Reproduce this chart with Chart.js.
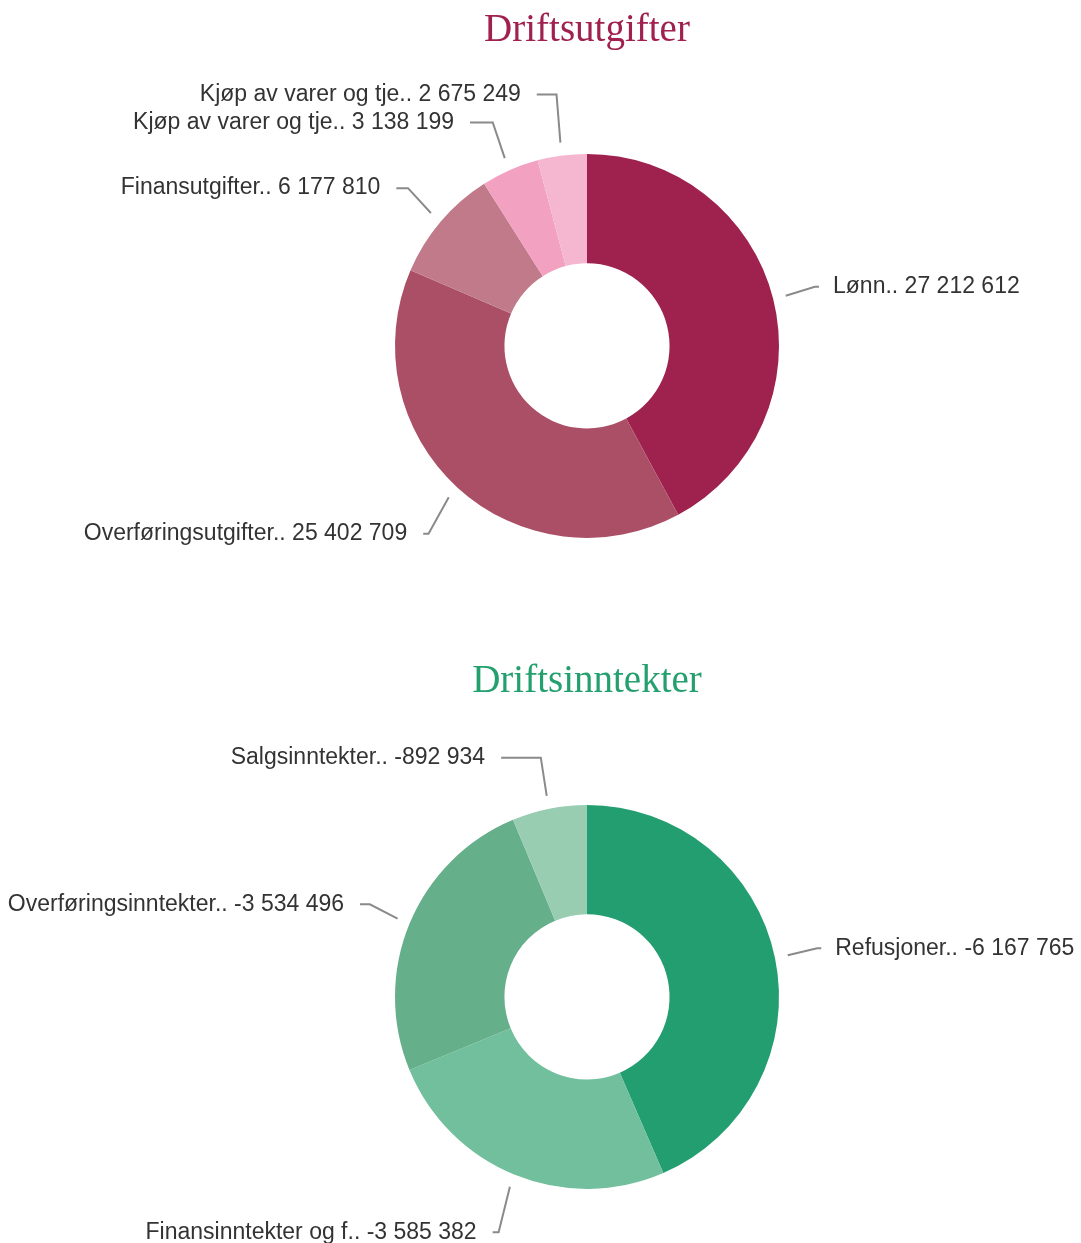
<!DOCTYPE html>
<html>
<head>
<meta charset="utf-8">
<script src="https://cdn.jsdelivr.net/npm/chart.js@4"></script>
<style>
  body { margin: 0; background: #fff; }
  canvas { display: block; }
</style>
</head>
<body>
<canvas id="utgifter" width="1081" height="650"></canvas>
<canvas id="inntekter" width="1081" height="593"></canvas>
<script>
// Driftsutgifter
const utgifterNavn = ['Lønn', 'Overføringsutgifter', 'Finansutgifter', 'Kjøp av varer og tje', 'Kjøp av varer og tje'];
const utgifterVerdier = [27212612, 25402709, 6177810, 3138199, 2675249];
const utgifterFarger = ['#9e214e', '#ab4f67', '#c07a8a', '#f3a1c0', '#f5b7d0'];

// Driftsinntekter
const inntekterNavn = ['Refusjoner', 'Finansinntekter og f', 'Overføringsinntekter', 'Salgsinntekter'];
const inntekterVerdier = [-6167765, -3585382, -3534496, -892934];
const inntekterFarger = ['#239e70', '#72bf9d', '#66af8b', '#98cdb2'];

// tall med mellomrom som tusenskille
function formater(v) {
    const s = Math.abs(v).toString().replace(/\B(?=(\d{3})+(?!\d))/g, ' ');
    return (v < 0 ? '-' : '') + s;
}

// tegner etiketter med strek ut fra hver sektor
const etiketter = {
    id: 'etiketter',
    afterDatasetsDraw(chart) {
        const ctx = chart.ctx;
        const meta = chart.getDatasetMeta(0);
        const data = chart.data.datasets[0].data;
        const navn = chart.data.labels;

        const punkter = meta.data.map((arc, i) => {
            const mid = (arc.startAngle + arc.endAngle) / 2;
            const dx = Math.cos(mid), dy = Math.sin(mid);
            const avstand = dy > 0 ? 61 : 53;
            return {
                i, arc, dx, dy,
                side: dx >= 0 ? 1 : -1,
                y: arc.y + dy * (arc.outerRadius + avstand) + 1
            };
        });

        // flytt etiketter oppover hvis de overlapper
        [1, -1].forEach(side => {
            const liste = punkter.filter(p => p.side === side).sort((a, b) => b.y - a.y);
            for (let k = 1; k < liste.length; k++) {
                if (liste[k].y > liste[k - 1].y - 28) liste[k].y = liste[k - 1].y - 28;
            }
        });

        ctx.save();
        ctx.font = '23px "Liberation Sans", Arial, sans-serif';
        ctx.textBaseline = 'middle';
        punkter.forEach(p => {
            const a = p.arc;
            const r = a.outerRadius;
            // tekstkant på en sirkel rundt smultringen
            const rt = r + (p.side > 0 ? 61 : 68);
            const oy = p.y - a.y;
            const tx = a.x + p.side * Math.sqrt(Math.max(rt * rt - oy * oy, 0));
            const ex = tx - p.side * (p.side > 0 ? 14 : 16);
            let kx = a.x + p.dx * (r + 43);
            if (p.side * (kx - ex) > 0) kx = ex;
            const sx = a.x + p.dx * (r + 13);
            const sy = a.y + p.dy * (r + 13);

            ctx.strokeStyle = '#8a8a8a';
            ctx.lineWidth = 2;
            ctx.beginPath();
            ctx.moveTo(sx, sy);
            ctx.lineTo(kx, p.y);
            ctx.lineTo(ex, p.y);
            ctx.stroke();

            ctx.fillStyle = '#333333';
            ctx.textAlign = p.side > 0 ? 'left' : 'right';
            ctx.fillText(navn[p.i] + '.. ' + formater(data[p.i]), tx, p.y);
        });
        ctx.restore();
    }
};

function lagSmultring(id, navn, verdier, farger, tittel, tittelFarge, topp, bunn) {
    return new Chart(document.getElementById(id), {
        type: 'doughnut',
        data: {
            labels: navn,
            datasets: [{
                data: verdier,
                backgroundColor: farger,
                borderWidth: 0
            }]
        },
        options: {
            responsive: false,
            animation: false,
            cutout: '43%',
            layout: {
                padding: { left: 395, right: 302, top: 0, bottom: bunn }
            },
            plugins: {
                legend: { display: false },
                tooltip: { enabled: false },
                title: {
                    display: true,
                    text: tittel,
                    color: tittelFarge,
                    font: { family: '"Liberation Serif", "Times New Roman", serif', size: 39, weight: 'normal' },
                    padding: { top: topp, bottom: 100 }
                }
            }
        },
        plugins: [etiketter]
    });
}

lagSmultring('utgifter', utgifterNavn, utgifterVerdier, utgifterFarger, 'Driftsutgifter', '#a0214f', 7, 112);
lagSmultring('inntekter', inntekterNavn, inntekterVerdier, inntekterFarger, 'Driftsinntekter', '#24a06e', 8, 54);
</script>
</body>
</html>
